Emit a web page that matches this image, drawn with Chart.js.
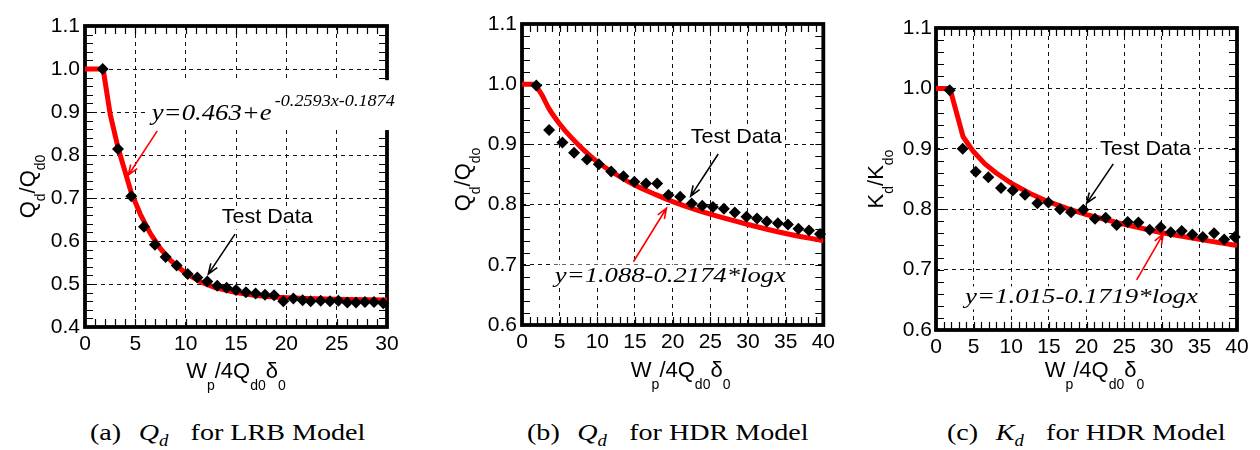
<!doctype html>
<html lang="en">
<head>
<meta charset="utf-8">
<title>Qd and Kd versus Wp/4Qd0δ0</title>
<style>
  * { margin: 0; padding: 0; }
  body { width: 1260px; height: 450px; background: #fff; position: relative; overflow: hidden; }
  .panel { position: absolute; top: 0; }
  .caption {
    position: absolute; top: 419px;
    font-family: "Liberation Serif", "Times New Roman", serif;
    font-size: 24px; white-space: nowrap; color: #000;
    transform: scaleX(1.17); transform-origin: left top;
  }
  .caption .sym { margin-left: 15px; font-style: italic; }
  .caption .sym sub { font-size: 16px; vertical-align: -6px; }
  .caption .rest { margin-left: 19px; }
</style>
</head>
<body>
<canvas id="chartA" class="panel" style="left:0px" width="420" height="400"></canvas>
<canvas id="chartB" class="panel" style="left:420px" width="420" height="400"></canvas>
<canvas id="chartC" class="panel" style="left:840px" width="420" height="400"></canvas>

<div class="caption" style="left:90px">(a)<span class="sym">Q<sub>d</sub></span><span class="rest">for LRB Model</span></div>
<div class="caption" style="left:527px">(b)<span class="sym">Q<sub>d</sub></span><span class="rest">for HDR Model</span></div>
<div class="caption" style="left:947px">(c)<span class="sym">K<sub>d</sub></span><span class="rest">for HDR Model</span></div>

<script src="https://cdn.jsdelivr.net/npm/chart.js/dist/chart.umd.min.js"></script>
<script>
// (a) LRB model, Qd/Qd0
const lrbTestX = [1.76, 3.28, 4.6, 5.86, 6.95, 8.01, 9.11, 10.2, 11.16, 12.15, 13.14, 14.07, 15.0, 15.99, 16.95,
  17.88, 18.78, 19.7, 20.7, 21.62, 22.42, 23.41, 24.34, 25.17, 26.06, 26.92, 27.81, 28.71, 29.63];
const lrbTestY = [1.0, 0.814, 0.704, 0.633, 0.591, 0.563, 0.543, 0.523, 0.515, 0.506, 0.496, 0.491, 0.486, 0.481, 0.478,
  0.475, 0.474, 0.46, 0.466, 0.462, 0.46, 0.461, 0.46, 0.461, 0.457, 0.457, 0.458, 0.458, 0.455];
const lrbFitX = [0, 1.8, 2.5, 3.3, 4, 4.6, 5.5, 6.5, 7.5, 8.5, 10, 11.5, 13, 15, 17, 19, 22, 26, 30];
const lrbFitY = [1.0, 1.0, 0.895, 0.815, 0.76, 0.712, 0.662, 0.617, 0.582, 0.555, 0.525, 0.505, 0.491, 0.48, 0.473, 0.469, 0.466, 0.464, 0.463];

// (b) HDR model, Qd/Qd0
const hdrQTestX = [1.9, 3.6, 5.37, 6.91, 8.63, 10.2, 11.84, 13.47, 14.92, 16.46, 17.95, 19.45, 21.0, 22.53, 23.93,
  25.35, 26.8, 28.25, 29.8, 31.2, 32.5, 33.97, 35.3, 36.7, 38.1, 39.56];
const hdrQTestY = [0.998, 0.924, 0.903, 0.886, 0.875, 0.867, 0.855, 0.847, 0.838, 0.835, 0.835, 0.816, 0.813, 0.802, 0.798,
  0.796, 0.793, 0.787, 0.78, 0.777, 0.772, 0.769, 0.767, 0.76, 0.757, 0.751];
const hdrQFitX = [0, 1.5, 2.5, 3.6, 5, 6.5, 8, 10, 12.5, 15, 17.5, 20, 25, 30, 35, 40];
const hdrQFitY = [1.0, 1.0, 0.985, 0.959, 0.934, 0.912, 0.893, 0.871, 0.85, 0.832, 0.818, 0.805, 0.784, 0.767, 0.752, 0.74];

// (c) HDR model, Kd/Kd0
const hdrKTestX = [1.82, 3.55, 5.28, 6.95, 8.64, 10.2, 11.83, 13.47, 14.93, 16.48, 17.95, 19.58, 21.13, 22.55, 24.0,
  25.47, 26.9, 28.4, 29.86, 31.2, 32.65, 34.07, 35.45, 36.95, 38.3, 39.7];
const hdrKTestY = [0.997, 0.9, 0.862, 0.853, 0.835, 0.831, 0.824, 0.81, 0.811, 0.8, 0.795, 0.799, 0.784, 0.786, 0.774,
  0.779, 0.778, 0.766, 0.77, 0.762, 0.764, 0.758, 0.754, 0.76, 0.75, 0.754];
const hdrKFitX = [0, 1.85, 3.6, 5, 6.5, 8, 10, 12.5, 15, 17.5, 20, 22.5, 25, 30, 35, 40];
const hdrKFitY = [1.0, 1.0, 0.92, 0.895, 0.875, 0.86, 0.843, 0.826, 0.812, 0.801, 0.791, 0.783, 0.775, 0.761, 0.75, 0.74];

// axis ranges / tick steps
const xRangeA = [0, 30], xRangeHDR = [0, 40];
const yRangeA = [0.4, 1.1], yRangeHDR = [0.6, 1.1];
const xStep = 5, yStep = 0.1, xMinorStep = 1, yMinorStep = 0.02;

// titles (text, isSubscript)
const xTitle = [['W', 0], ['p', 1], ['/4Q', 0], ['d0', 1], ['δ', 0], ['0', 1]];
const yTitleA = [['Q', 0], ['d', 1], ['/Q', 0], ['d0', 1]];
const yTitleB = [['Q', 0], ['d', 1], ['/Q', 0], ['do', 1]];
const yTitleC = [['K', 0], ['d', 1], ['/K', 0], ['do', 1]];

const SANS = '"Liberation Sans", Arial, Helvetica, sans-serif';
const SERIF = '"Liberation Serif", "Times New Roman", serif';

function pts(xs, ys) { return xs.map((x, i) => ({x: x, y: ys[i]})); }

function richWidth(ctx, parts, main, sub) {
  let w = 0;
  for (const [t, s] of parts) { ctx.font = s ? sub : main; w += ctx.measureText(t).width; }
  return w;
}
function drawRich(ctx, parts, x, y, main, sub, drop) {
  let cx = x;
  for (const [t, s] of parts) {
    ctx.font = s ? sub : main;
    ctx.fillText(t, cx, y + (s ? drop : 0));
    cx += ctx.measureText(t).width;
  }
}
function arrow(ctx, x1, y1, x2, y2, color) {
  const ang = Math.atan2(y2 - y1, x2 - x1), L = 11, h = 0.36;
  ctx.strokeStyle = color;
  ctx.lineWidth = 1.6;
  ctx.beginPath();
  ctx.moveTo(x1, y1); ctx.lineTo(x2, y2);
  ctx.moveTo(x2 - L * Math.cos(ang - h), y2 - L * Math.sin(ang - h));
  ctx.lineTo(x2, y2);
  ctx.lineTo(x2 - L * Math.cos(ang + h), y2 - L * Math.sin(ang + h));
  ctx.stroke();
}

const panelDecor = {
  id: 'panelDecor',
  beforeDatasetsDraw(chart, args, o) {
    const {ctx, chartArea: a, scales: {x, y}} = chart;
    ctx.save();
    ctx.strokeStyle = '#000';
    ctx.lineWidth = 1.2;
    ctx.beginPath();
    const nx = Math.round((x.max - x.min) / xMinorStep);
    for (let i = 0; i <= nx; i++) {
      const px = Math.round(x.getPixelForValue(x.min + i * xMinorStep)) + 0.5;
      ctx.moveTo(px, a.top); ctx.lineTo(px, a.top + 8);
      ctx.moveTo(px, a.bottom); ctx.lineTo(px, a.bottom - 8);
    }
    const ny = Math.round((y.max - y.min) / yMinorStep);
    for (let i = 0; i <= ny; i++) {
      const py = Math.round(y.getPixelForValue(y.min + i * yMinorStep)) + 0.5;
      ctx.moveTo(a.left, py); ctx.lineTo(a.left + 8, py);
      ctx.moveTo(a.right, py); ctx.lineTo(a.right - 8, py);
    }
    ctx.stroke();
    ctx.lineWidth = 3.8;
    ctx.strokeRect(a.left, a.top, a.right - a.left, a.bottom - a.top);
    ctx.restore();
  },
  afterDatasetsDraw(chart, args, o) {
    const {ctx, scales: {x, y}} = chart;
    ctx.save();
    ctx.textBaseline = 'alphabetic';
    ctx.textAlign = 'left';
    for (const lb of o.labels) {
      const px = x.getPixelForValue(lb.x), py = y.getPixelForValue(lb.y);
      // white background behind the annotation
      ctx.fillStyle = '#fff';
      if (lb.box) {
        const bx0 = x.getPixelForValue(lb.box[0]), by0 = y.getPixelForValue(lb.box[1]);
        const bx1 = x.getPixelForValue(lb.box[2]), by1 = y.getPixelForValue(lb.box[3]);
        ctx.fillRect(bx0, by0, bx1 - bx0, by1 - by0);
      } else {
        let w = 0;
        for (const r of lb.runs) w += (r.gap || 0) + r.w;
        ctx.fillRect(px - 3, py - lb.h - 2, w + 6, lb.h + 8);
      }
      ctx.fillStyle = lb.color || '#000';
      let cx = px;
      for (const r of lb.runs) {
        cx += r.gap || 0;
        ctx.font = r.font;
        const mw = ctx.measureText(r.t).width;
        ctx.save();
        ctx.translate(cx, py + (r.dy || 0));
        ctx.scale(r.w / mw, 1);
        ctx.fillText(r.t, 0, 0);
        ctx.restore();
        cx += r.w;
      }
    }
    for (const ar of o.arrows) {
      arrow(ctx, x.getPixelForValue(ar.from[0]), y.getPixelForValue(ar.from[1]),
        x.getPixelForValue(ar.to[0]), y.getPixelForValue(ar.to[1]), ar.color);
    }
    ctx.restore();
  },
  afterDraw(chart, args, o) {
    const {ctx, chartArea: a} = chart;
    const main = '22px ' + SANS, sub = '14px ' + SANS;
    ctx.save();
    ctx.fillStyle = '#000';
    ctx.textBaseline = 'alphabetic';
    ctx.textAlign = 'left';
    // x title
    const wx = richWidth(ctx, xTitle, main, sub);
    drawRich(ctx, xTitle, (a.left + a.right) / 2 + o.xTitleDx - wx / 2, a.bottom + o.xTitleDy, main, sub, 12);
    // y title (rotated)
    const wy = richWidth(ctx, o.yTitle, main, sub);
    ctx.translate(a.left + o.yTitleDx, (a.top + a.bottom) / 2 + o.yTitleDy);
    ctx.rotate(-Math.PI / 2);
    drawRich(ctx, o.yTitle, -wy / 2, 0, main, sub, 10);
    ctx.restore();
  }
};

function makePanel(id, p) {
  const tickFont = {family: SANS, size: 21};
  return new Chart(document.getElementById(id), {
    type: 'line',
    data: {
      datasets: [{
        label: 'Test Data',
        data: pts(p.testX, p.testY),
        showLine: false,
        pointStyle: 'rectRot',
        pointRadius: 6,
        backgroundColor: '#000',
        borderColor: '#000',
        borderWidth: 0,
        clip: false
      }, {
        label: 'Fit',
        data: pts(p.fitX, p.fitY),
        borderColor: '#ff0000',
        borderWidth: 5,
        pointRadius: 0,
        tension: 0,
        cubicInterpolationMode: p.mono ? 'monotone' : 'default',
        borderJoinStyle: 'round',
        fill: false
      }]
    },
    options: {
      responsive: false,
      animation: false,
      events: [],
      layout: {padding: {left: 0, top: p.area.top, right: 420 - p.area.right, bottom: 0}},
      plugins: {
        legend: {display: false},
        tooltip: {enabled: false},
        panelDecor: p.decor
      },
      scales: {
        x: {
          type: 'linear', min: p.xr[0], max: p.xr[1],
          ticks: {stepSize: xStep, font: tickFont, color: '#000', padding: 5, maxRotation: 0, autoSkip: false},
          grid: {color: '#111', lineWidth: 1, drawTicks: false},
          border: {display: false, dash: [4, 4]},
          afterFit(s) { s.height = 400 - p.area.bottom; }
        },
        y: {
          type: 'linear', min: p.yr[0], max: p.yr[1],
          ticks: {stepSize: yStep, font: tickFont, color: '#000', padding: p.yPad,
            callback: v => v.toFixed(1)},
          grid: {color: '#111', lineWidth: 1, drawTicks: false},
          border: {display: false, dash: [4, 4]},
          afterFit(s) { s.width = p.area.left; }
        }
      }
    },
    plugins: [panelDecor]
  });
}

const eqFont = 'italic 22px ' + SERIF;
const labelFont = '21px ' + SANS;

makePanel('chartA', {
  testX: lrbTestX, testY: lrbTestY, fitX: lrbFitX, fitY: lrbFitY, mono: false,
  xr: xRangeA, yr: yRangeA, yPad: 5,
  area: {left: 85, right: 387, top: 26, bottom: 327},
  decor: {
    yTitle: yTitleA, yTitleDx: -50, yTitleDy: 10, xTitleDx: 0, xTitleDy: 51,
    labels: [
      {x: 6.63, y: 0.881, box: [6.26, 0.974, 31.0, 0.858], runs: [
        {t: 'y=0.463+e', font: 'italic 24px ' + SERIF, w: 120},
        {t: '-0.2593x-0.1874', font: 'italic 16px ' + SERIF, w: 120, gap: 3, dy: -14}]},
      {x: 13.58, y: 0.641, h: 15, runs: [{t: 'Test Data', font: labelFont, w: 91}]}
    ],
    arrows: [
      {from: [14.9, 0.616], to: [12.25, 0.523], color: '#000'},
      {from: [7.18, 0.856], to: [4.3, 0.753], color: '#ff0000'}
    ]
  }
});

makePanel('chartB', {
  testX: hdrQTestX, testY: hdrQTestY, fitX: hdrQFitX, fitY: hdrQFitY, mono: true,
  xr: xRangeHDR, yr: yRangeHDR, yPad: 5,
  area: {left: 102, right: 405, top: 24, bottom: 325},
  decor: {
    yTitle: yTitleB, yTitleDx: -52, yTitleDy: 5, xTitleDx: 8, xTitleDy: 52,
    labels: [
      {x: 22.4, y: 0.902, h: 15, runs: [{t: 'Test Data', font: labelFont, w: 91}]},
      {x: 4.36, y: 0.672, h: 15, runs: [{t: 'y=1.088-0.2174*logx', font: eqFont, w: 231}]}
    ],
    arrows: [
      {from: [26.05, 0.884], to: [22.4, 0.814], color: '#000'},
      {from: [14.79, 0.705], to: [19.18, 0.794], color: '#ff0000'}
    ]
  }
});

makePanel('chartC', {
  testX: hdrKTestX, testY: hdrKTestY, fitX: hdrKFitX, fitY: hdrKFitY, mono: false,
  xr: xRangeHDR, yr: yRangeHDR, yPad: 4,
  area: {left: 96, right: 397, top: 28, bottom: 330},
  decor: {
    yTitle: yTitleC, yTitleDx: -53, yTitleDy: 0, xTitleDx: 8, xTitleDy: 47,
    labels: [
      {x: 21.79, y: 0.89, h: 15, runs: [{t: 'Test Data', font: labelFont, w: 91}]},
      {x: 3.85, y: 0.644, h: 15, runs: [{t: 'y=1.015-0.1719*logx', font: eqFont, w: 233}]}
    ],
    arrows: [
      {from: [23.56, 0.875], to: [20.03, 0.81], color: '#000'},
      {from: [26.67, 0.683], to: [30.2, 0.759], color: '#ff0000'}
    ]
  }
});
</script>
</body>
</html>
